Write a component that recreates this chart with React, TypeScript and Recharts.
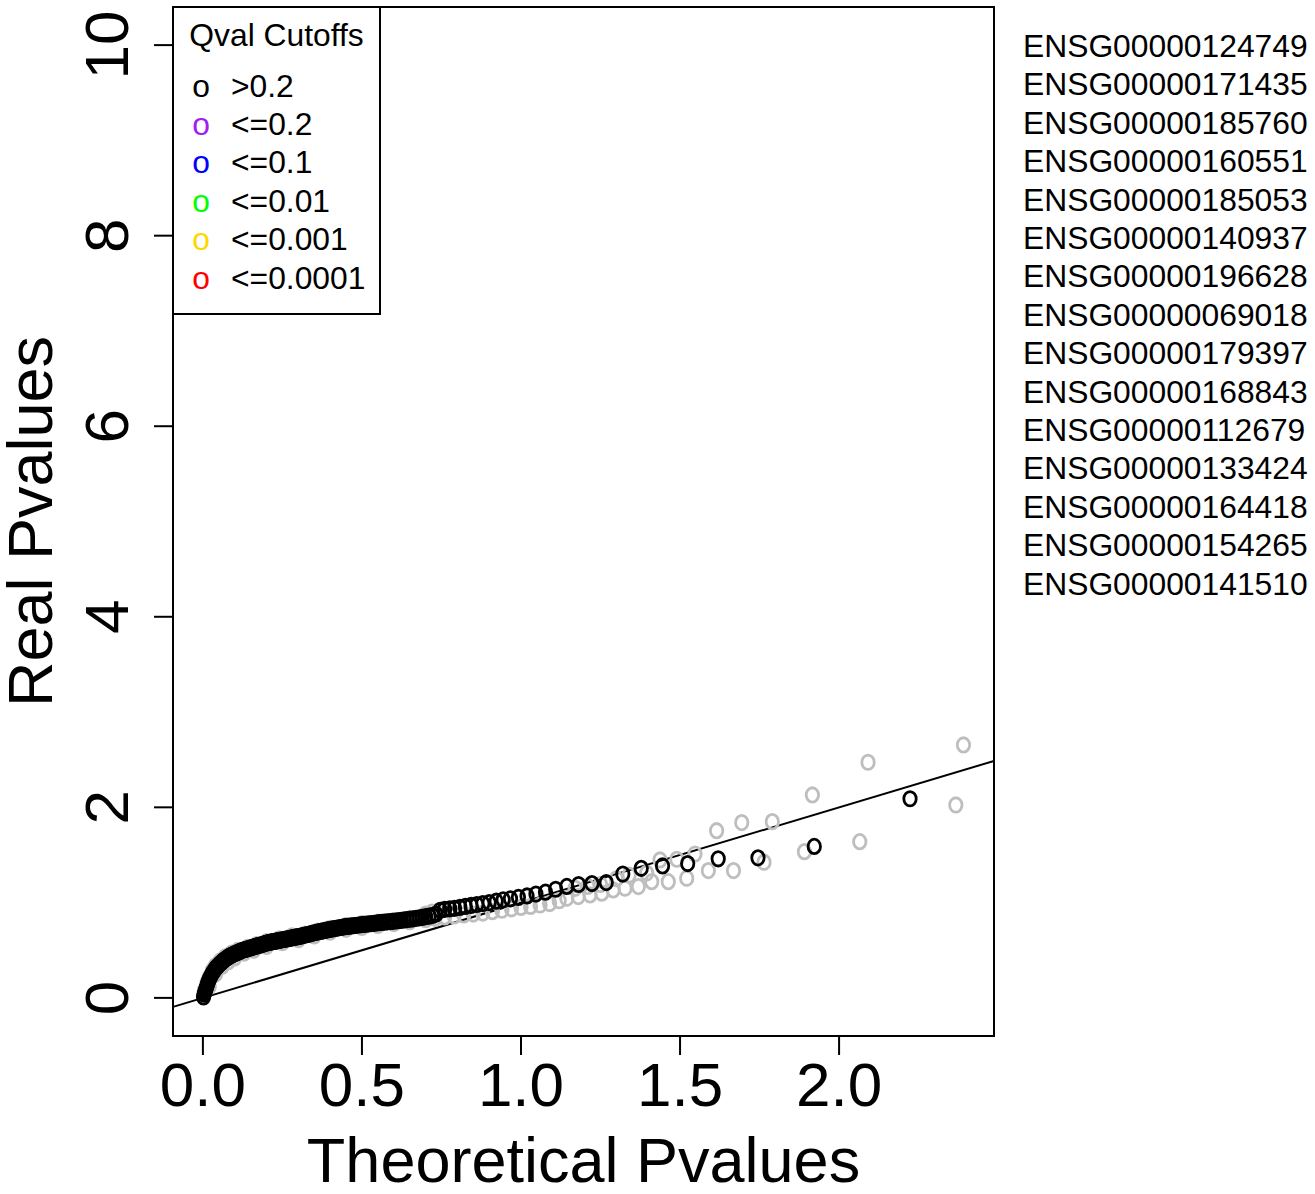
import React from 'react';
import { ScatterChart, Scatter, XAxis, YAxis, ReferenceLine, ReferenceArea } from 'recharts';

const FONT = '"Liberation Sans", Arial, Helvetica, sans-serif';

const xTicks = [0, 0.5, 1, 1.5, 2];
const yTicks = [0, 2, 4, 6, 8, 10];
const xDomain: [number, number] = [-0.094, 2.487];
const yDomain: [number, number] = [-0.4, 10.4];
const xTitle = 'Theoretical Pvalues';
const yTitle = 'Real Pvalues';

const legendTitle = 'Qval Cutoffs';
const legendLabels = ['>0.2', '<=0.2', '<=0.1', '<=0.01', '<=0.001', '<=0.0001'];
const legendColors = ['#000000', '#A020F0', '#0000FF', '#00FF00', '#FFD700', '#FF0000'];

const geneIds = [
  'ENSG00000124749', 'ENSG00000171435', 'ENSG00000185760', 'ENSG00000160551', 'ENSG00000185053',
  'ENSG00000140937', 'ENSG00000196628', 'ENSG00000069018', 'ENSG00000179397', 'ENSG00000168843',
  'ENSG00000112679', 'ENSG00000133424', 'ENSG00000164418', 'ENSG00000154265', 'ENSG00000141510',
];

// observed (black) points: [theoretical, real]
const blackPoints: [number, number][] = [
  [0.002, 0.01], [0.004, 0.04], [0.006, 0.06], [0.008, 0.08], [0.010, 0.10], [0.012, 0.12], [0.014, 0.14],
  [0.016, 0.16], [0.018, 0.18], [0.020, 0.195], [0.023, 0.215], [0.026, 0.235], [0.029, 0.255], [0.032, 0.27],
  [0.035, 0.285], [0.038, 0.30], [0.041, 0.315], [0.044, 0.325], [0.047, 0.335], [0.050, 0.345], [0.054, 0.36],
  [0.058, 0.37], [0.062, 0.385], [0.066, 0.395], [0.070, 0.405], [0.074, 0.415], [0.078, 0.425], [0.082, 0.435],
  [0.086, 0.44], [0.090, 0.45], [0.095, 0.455], [0.100, 0.465], [0.105, 0.47], [0.110, 0.48], [0.115, 0.485],
  [0.120, 0.495], [0.125, 0.50], [0.130, 0.505], [0.135, 0.51], [0.140, 0.515], [0.145, 0.52], [0.150, 0.525],
  [0.155, 0.53], [0.160, 0.535], [0.165, 0.54], [0.170, 0.545], [0.175, 0.55], [0.180, 0.555], [0.185, 0.56],
  [0.190, 0.565], [0.195, 0.57], [0.200, 0.575], [0.205, 0.58], [0.210, 0.583], [0.215, 0.587], [0.220, 0.59],
  [0.225, 0.593], [0.230, 0.596], [0.235, 0.60], [0.240, 0.603], [0.245, 0.607], [0.250, 0.61], [0.255, 0.613],
  [0.260, 0.617], [0.265, 0.62], [0.270, 0.623], [0.275, 0.627], [0.280, 0.63], [0.285, 0.633], [0.290, 0.637],
  [0.295, 0.64], [0.300, 0.643], [0.307, 0.648], [0.314, 0.653], [0.321, 0.66], [0.328, 0.665], [0.335, 0.67],
  [0.342, 0.677], [0.349, 0.683], [0.356, 0.688], [0.363, 0.693], [0.370, 0.698], [0.377, 0.703], [0.384, 0.708],
  [0.391, 0.713], [0.398, 0.718], [0.405, 0.722], [0.412, 0.727], [0.419, 0.731], [0.426, 0.735], [0.433, 0.739],
  [0.440, 0.743], [0.447, 0.747], [0.454, 0.75], [0.461, 0.753], [0.468, 0.756], [0.475, 0.759], [0.482, 0.762],
  [0.490, 0.765], [0.498, 0.768], [0.506, 0.771], [0.514, 0.774], [0.522, 0.777], [0.530, 0.78], [0.538, 0.783],
  [0.546, 0.786], [0.554, 0.789], [0.562, 0.792], [0.570, 0.795], [0.579, 0.798], [0.588, 0.801], [0.597, 0.804],
  [0.606, 0.807], [0.615, 0.81], [0.624, 0.814], [0.633, 0.818], [0.642, 0.822], [0.651, 0.826], [0.660, 0.83],
  [0.670, 0.835], [0.680, 0.84], [0.690, 0.845], [0.700, 0.852], [0.711, 0.858], [0.722, 0.866], [0.733, 0.88],
  [0.746, 0.92], [0.760, 0.93], [0.776, 0.935], [0.791, 0.94], [0.808, 0.95], [0.825, 0.96], [0.843, 0.97],
  [0.861, 0.98], [0.880, 0.99], [0.900, 1.00], [0.922, 1.015], [0.944, 1.03], [0.967, 1.04], [0.992, 1.055],
  [1.019, 1.07], [1.047, 1.09], [1.077, 1.11], [1.109, 1.14], [1.144, 1.17], [1.181, 1.19], [1.223, 1.20],
  [1.268, 1.21], [1.320, 1.30], [1.378, 1.36], [1.445, 1.385], [1.524, 1.41], [1.620, 1.46], [1.745, 1.47],
  [1.922, 1.59], [2.223, 2.09],
];

// permuted (grey) points: [theoretical, real]
const greyPoints: [number, number][] = [
  [0.005, 0.08], [0.012, 0.15], [0.02, 0.22], [0.03, 0.29], [0.04, 0.34], [0.055, 0.39], [0.07, 0.43],
  [0.09, 0.47], [0.11, 0.50], [0.14, 0.53], [0.17, 0.56], [0.20, 0.59], [0.24, 0.62], [0.28, 0.65],
  [0.32, 0.67], [0.36, 0.70], [0.40, 0.73], [0.45, 0.76], [0.50, 0.78], [0.55, 0.795], [0.60, 0.81],
  [0.65, 0.83], [0.70, 0.88], [0.72, 0.90], [0.74, 0.91],
  [0.02, 0.12], [0.04, 0.25], [0.06, 0.33], [0.08, 0.38], [0.10, 0.42], [0.13, 0.47], [0.16, 0.50],
  [0.20, 0.54], [0.25, 0.58], [0.30, 0.61], [0.35, 0.65], [0.40, 0.69], [0.45, 0.72], [0.50, 0.74],
  [0.55, 0.76], [0.60, 0.78], [0.65, 0.80], [0.70, 0.82], [0.73, 0.835], [0.76, 0.85], [0.79, 0.86],
  [0.82, 0.87], [0.85, 0.88], [0.88, 0.89], [0.91, 0.905], [0.94, 0.92], [0.97, 0.935], [1.00, 0.95],
  [1.03, 0.96], [1.06, 0.975], [1.09, 0.99], [1.12, 1.02],
  [1.17, 1.15], [1.21, 1.17], [1.25, 1.19], [1.30, 1.25], [1.34, 1.29],
  [1.144, 1.046], [1.180, 1.063], [1.217, 1.081], [1.254, 1.099], [1.290, 1.133], [1.327, 1.151],
  [1.369, 1.168], [1.411, 1.22], [1.463, 1.22], [1.521, 1.256], [1.589, 1.336], [1.668, 1.336],
  [1.764, 1.424], [1.891, 1.535], [2.065, 1.64], [2.367, 2.025],
  [1.395, 1.31], [1.437, 1.448], [1.49, 1.455], [1.547, 1.51], [1.615, 1.755], [1.694, 1.84],
  [1.790, 1.85], [1.916, 2.13], [2.091, 2.473], [2.391, 2.655],
];

const blackData = blackPoints.map(([x, y]) => ({ x, y }));
const greyData = greyPoints.map(([x, y]) => ({ x, y }));

const makeO = (color: string) => (props: any) => {
  const { cx, cy } = props;
  if (cx == null || cy == null) return <g />;
  return <ellipse cx={cx} cy={cy} rx={6.2} ry={7.2} fill="none" stroke={color} strokeWidth={2.8} />;
};

const XTick = (props: any) => {
  const { x, y, payload } = props;
  return (
    <text x={x} y={y} dy={49} textAnchor="middle" fontSize={62} fontFamily={FONT} fill="#000">
      {Number(payload.value).toFixed(1)}
    </text>
  );
};

const YTick = (props: any) => {
  const { x, y, payload } = props;
  const bx = x - 24;
  return (
    <text x={bx} y={y} textAnchor="middle" fontSize={62} fontFamily={FONT} fill="#000"
      transform={`rotate(-90, ${bx}, ${y})`}>
      {String(payload.value)}
    </text>
  );
};

const XTitle = (props: any) => {
  const vb = props.viewBox || {};
  return (
    <text x={vb.x + vb.width / 2} y={vb.y + 146} textAnchor="middle" fontSize={63} fontFamily={FONT} fill="#000">
      {xTitle}
    </text>
  );
};

const YTitle = (props: any) => {
  const vb = props.viewBox || {};
  const cx = 52;
  const cy = vb.y + vb.height / 2;
  return (
    <text x={cx} y={cy} textAnchor="middle" fontSize={63} fontFamily={FONT} fill="#000"
      transform={`rotate(-90, ${cx}, ${cy})`}>
      {yTitle}
    </text>
  );
};

const LFS = 31.8;

export default function App() {
  return (
    <div style={{ position: 'absolute', left: 0, top: 0, width: 1315, height: 1194, background: '#fff' }}>
      <ScatterChart width={1315} height={1194} margin={{ top: 7, right: 321, bottom: 0, left: 0 }}>
        <XAxis
          type="number"
          dataKey="x"
          domain={xDomain}
          ticks={xTicks}
          allowDataOverflow
          height={158}
          axisLine={false}
          tickLine={{ stroke: '#000', strokeWidth: 2 }}
          tickSize={19}
          tick={<XTick />}
          label={<XTitle />}
        />
        <YAxis
          type="number"
          dataKey="y"
          domain={yDomain}
          ticks={yTicks}
          allowDataOverflow
          width={173}
          axisLine={false}
          tickLine={{ stroke: '#000', strokeWidth: 2 }}
          tickSize={19}
          tick={<YTick />}
          label={<YTitle />}
        />
        <ReferenceArea x1={xDomain[0]} x2={xDomain[1]} y1={yDomain[0]} y2={yDomain[1]}
          fill="none" fillOpacity={0} stroke="#000" strokeWidth={2} />
        <Scatter data={greyData} isAnimationActive={false} shape={makeO('#BEBEBE')} />
        <Scatter data={blackData} isAnimationActive={false} shape={makeO('#000000')} />
        <ReferenceLine
          segment={[{ x: xDomain[0], y: xDomain[0] }, { x: xDomain[1], y: xDomain[1] }]}
          stroke="#000" strokeWidth={2}
        />
      </ScatterChart>
      <svg width={1315} height={1194} style={{ position: 'absolute', left: 0, top: 0, pointerEvents: 'none' }}>
        <rect x={173} y={7} width={207} height={307} fill="#fff" stroke="#000" strokeWidth={2} />
        <text x={276.5} y={46} textAnchor="middle" fontSize={LFS} fontFamily={FONT} fill="#000">{legendTitle}</text>
        {legendLabels.map((lab, i) => (
          <g key={lab}>
            <text x={201} y={96.5 + i * 38.4} textAnchor="middle" fontSize={LFS} fontFamily={FONT} fill={legendColors[i]}>o</text>
            <text x={231} y={96.5 + i * 38.4} fontSize={LFS} fontFamily={FONT} fill="#000">{lab}</text>
          </g>
        ))}
        {geneIds.map((g, i) => (
          <text key={g} x={1023} y={57 + i * 38.4} fontSize={LFS} fontFamily={FONT} fill="#000">{g}</text>
        ))}
      </svg>
    </div>
  );
}
